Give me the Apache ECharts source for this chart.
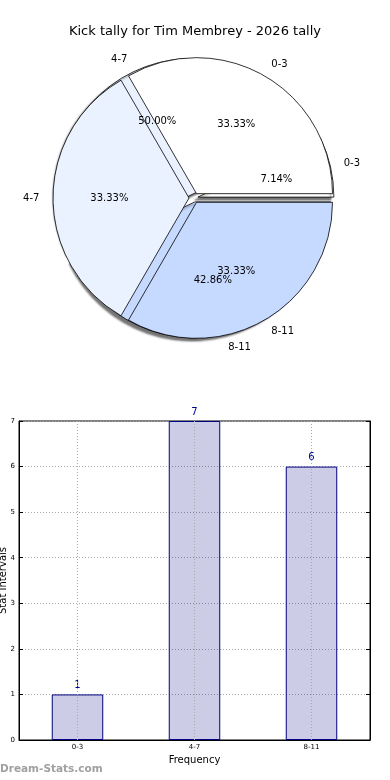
<!DOCTYPE html>
<html><head><meta charset="utf-8">
<script src="https://cdn.jsdelivr.net/npm/echarts@6/dist/echarts.min.js"></script>
<style>html,body{margin:0;padding:0;background:#fff}#c{width:390px;height:780px}</style>
</head><body><div id="c"></div>
<script>
const chartTitle = 'Kick tally for Tim Membrey - 2026 tally';
const categories = ['0-3', '4-7', '8-11'];
const kickCounts = [1, 7, 6];
const pieBValues = [1, 1, 1];
const pieColors = ['#ffffff', '#ebf2ff', '#c6d9ff'];
const yMax = 7;

const FONT = 'DejaVu Sans';
const R = 136;
const CENTER = [194, 198];

function pct(arr) {
  const s = arr.reduce((a, b) => a + b, 0);
  return arr.map(v => (v / s * 100).toFixed(2) + '%');
}
function pieData(vals) {
  return vals.map((v, i) => ({
    name: categories[i], value: v, selected: true,
    itemStyle: { color: pieColors[i] }
  }));
}
const outerLabel = {
  show: true, position: 'outside', fontFamily: FONT, fontSize: 10, color: '#000',
  distanceToLabelLine: 0, formatter: '{b}'
};
const outerLine = { show: false, length: R * 0.1, length2: 0 };

function pctSeries(vals) {
  const labels = pct(vals);
  return {
    type: 'pie', center: CENTER, radius: [0, R * 1.2], startAngle: 0, clockwise: false,
    silent: true, z: 10, avoidLabelOverlap: false, labelLayout: { hideOverlap: false },
    data: vals.map((v, i) => ({ name: categories[i], value: v })),
    itemStyle: { color: 'rgba(0,0,0,0)', borderWidth: 0 },
    label: { show: true, position: 'inside', fontFamily: FONT, fontSize: 10, color: '#000',
      formatter: p => labels[p.dataIndex] },
    labelLine: { show: false }, emphasis: { disabled: true }
  };
}

const chart = echarts.init(document.getElementById('c'), null, { renderer: 'canvas' });
chart.setOption({
  animation: false,
  backgroundColor: '#fff',
  title: {
    text: chartTitle, left: 'center', top: 20,
    textStyle: { fontFamily: FONT, fontSize: 13, fontWeight: 'normal', color: '#000' }
  },
  graphic: [{
    type: 'text', left: 0, top: 764,
    style: { text: 'Dream-Stats.com', fontFamily: FONT, fontSize: 10.5, fontWeight: 'bold', fill: '#a0a0a0' }
  }, {
    type: 'text', left: -2, top: 547, rotation: Math.PI / 2,
    style: { text: 'Stat Intervals', fontFamily: FONT, fontSize: 10, fill: '#000' }
  }],
  grid: { left: 19, right: 20, top: 421, bottom: 40, show: true, borderColor: '#000', borderWidth: 1,
    containLabel: false, outerBoundsMode: 'none' },
  xAxis: {
    type: 'category', data: categories,
    name: 'Frequency', nameLocation: 'middle', nameGap: 15,
    nameTextStyle: { fontFamily: FONT, fontSize: 10, color: '#000', verticalAlign: 'top' },
    axisLine: { lineStyle: { color: '#000' } },
    axisTick: { alignWithLabel: true, inside: true, length: 4, lineStyle: { color: '#000' } },
    axisLabel: { fontFamily: FONT, fontSize: 7, color: '#000', margin: 4 },
    splitLine: { show: false }
  },
  yAxis: [{
    type: 'value', min: 0, max: yMax, interval: 1,
    axisLine: { show: true, lineStyle: { color: '#000' } },
    axisTick: { show: true, inside: true, length: 4, lineStyle: { color: '#000' } },
    axisLabel: { fontFamily: FONT, fontSize: 7, color: '#000', margin: 4 },
    splitLine: { show: true, lineStyle: { color: '#a8a8a8', type: [1, 2], width: 1 } }
  }, {
    type: 'value', min: 0, max: yMax, interval: 1, position: 'right',
    axisLine: { show: true, lineStyle: { color: '#000' } },
    axisTick: { show: true, inside: true, length: 4, lineStyle: { color: '#000' } },
    axisLabel: { show: false }, splitLine: { show: false }
  }],
  series: [
    {
      type: 'line', data: [], z: 1, silent: true,
      markLine: {
        silent: true, symbol: 'none', label: { show: false },
        lineStyle: { color: '#a8a8a8', type: [1, 2], width: 1 },
        data: categories.map(c => ({ xAxis: c }))
      }
    },
    {
      type: 'bar', data: kickCounts, barWidth: '44%', z: 2,
      itemStyle: { color: 'rgba(0,0,128,0.2)', borderColor: '#000080', borderWidth: 1 },
      label: { show: true, position: 'top', distance: 4, fontFamily: FONT, fontSize: 10, color: '#00008b' }
    },
    {
      type: 'pie', center: CENTER, radius: [0, R], startAngle: 0, clockwise: false,
      selectedMode: 'multiple', selectedOffset: 4, avoidLabelOverlap: false, labelLayout: { hideOverlap: false },
      data: pieData(kickCounts),
      itemStyle: { borderColor: '#000', borderWidth: 0.8, shadowColor: 'rgba(0,0,0,0.55)', shadowBlur: 2, shadowOffsetX: -3, shadowOffsetY: 3 },
      label: outerLabel, labelLine: outerLine, emphasis: { disabled: true }
    },
    {
      type: 'pie', center: CENTER, radius: [0, R], startAngle: 0, clockwise: false,
      selectedMode: 'multiple', selectedOffset: 5, avoidLabelOverlap: false, labelLayout: { hideOverlap: false },
      data: pieData(pieBValues),
      itemStyle: { borderColor: '#000', borderWidth: 0.8 },
      label: outerLabel, labelLine: outerLine, emphasis: { disabled: true }
    },
    pctSeries(kickCounts),
    pctSeries(pieBValues)
  ]
});
</script></body></html>
